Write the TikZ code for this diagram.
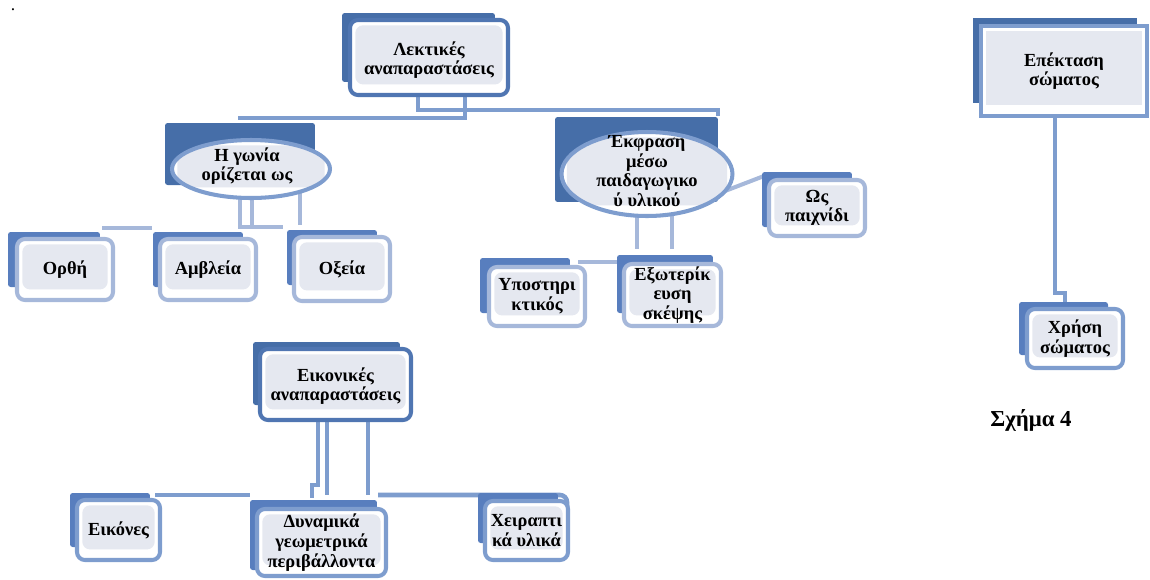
\documentclass[tikz,border=0pt]{standalone}
\usepackage{fontspec}
\setmainfont{Liberation Serif}
\usetikzlibrary{shapes.geometric, backgrounds}
\definecolor{deepblue}{RGB}{70,110,168}
\definecolor{frameblue}{RGB}{80,118,178}
\definecolor{midblue}{RGB}{88,126,190}
\definecolor{linkblue}{RGB}{126,157,206}
\definecolor{paleblue}{RGB}{166,184,218}
\definecolor{dotfill}{RGB}{229,232,240}

\begin{document}
\begin{tikzpicture}
[x=0.02cm, y=-0.02cm, every node/.style={font=\bfseries\fontsize{10.5}{11.2}\selectfont, align=center, inner sep=0pt}, main back/.style={fill=deepblue, rounded corners=1.5pt}, leaf back/.style={fill=midblue, rounded corners=1.5pt}, front box/.style={fill=white, line width=2.3pt, rounded corners=4.5pt, path picture={\fill[dotfill] ([shift={(3pt,6pt)}]path picture bounding box.south west) rectangle ([shift={(-3pt,-3pt)}]path picture bounding box.north east);}}, main box/.style={front box, draw=frameblue}, leaf box/.style={front box, draw=paleblue}, low box/.style={front box, draw=linkblue}, oval/.style={ellipse, front box, draw=linkblue}, link line/.style={draw=linkblue, line width=2.6pt}, pale line/.style={draw=paleblue, line width=2.3pt}]
    \useasboundingbox (0,0) rectangle (1150,579);
    \node[font=\fontsize{10}{12}\selectfont] (dot) at (13,10) {.};
    \node[main back, minimum width=3.06cm, minimum height=1.38cm] (lekt-b) at (418.5,47.5) {};
    \node[main box, minimum width=3.16cm, minimum height=1.5cm] (lekt) at (429,57.5) {};
    \node (lekt-t) at (429,60) {Λεκτικές\\αναπαραστάσεις};
    \node[main back, minimum width=3cm, minimum height=1.24cm] (gonia-b) at (240,154) {};
    \node[oval, minimum width=3.16cm, minimum height=1.16cm] (gonia) at (251,169) {};
    \node (gonia-t) at (247,166) {Η γωνία\\ορίζεται ως};
    \node[leaf back, minimum width=1.84cm, minimum height=1.1cm] (orthi-b) at (54,259.5) {};
    \node[leaf box, minimum width=1.92cm, minimum height=1.22cm] (orthi) at (65,269.5) {Ορθή};
    \node[leaf back, minimum width=1.8cm, minimum height=1.1cm] (amvl-b) at (198,259.5) {};
    \node[leaf box, minimum width=1.92cm, minimum height=1.22cm] (amvl) at (208,269.5) {Αμβλεία};
    \node[leaf back, minimum width=1.8cm, minimum height=1.1cm] (oxeia-b) at (332,257.5) {};
    \node[leaf box, minimum width=1.92cm, minimum height=1.28cm] (oxeia) at (342,269) {Οξεία};
    \node[main back, minimum width=3.26cm, minimum height=1.7cm] (ekfr-b) at (636.5,159.5) {};
    \node[oval, minimum width=3.42cm, minimum height=1.68cm] (ekfr) at (647,174) {};
    \node (ekfr-t) at (647,171) {Έκφραση\\μέσω\\παιδαγωγικο\\ύ υλικού};
    \node[leaf back, minimum width=1.8cm, minimum height=1.1cm] (paix-b) at (807,199.5) {};
    \node[leaf box, minimum width=1.92cm, minimum height=1.12cm] (paix) at (817,208) {Ως\\παιχνίδι};
    \node[leaf back, minimum width=1.8cm, minimum height=1.1cm] (ypost-b) at (525,285.5) {};
    \node[leaf box, minimum width=1.92cm, minimum height=1.18cm] (ypost) at (537,296.5) {Υποστηρι\\κτικός};
    \node[leaf back, minimum width=1.92cm, minimum height=1.16cm] (exot-b) at (665,284) {};
    \node[leaf box, minimum width=1.94cm, minimum height=1.24cm] (exot) at (672.5,295) {Εξωτερίκ\\ευση\\σκέψης};
    \node[main back, minimum width=2.94cm, minimum height=1.26cm] (eik-b) at (326.5,373.5) {};
    \node[main box, minimum width=3.02cm, minimum height=1.42cm] (eik) at (335.5,384.5) {};
    \node (eik-t) at (335.5,386) {Εικονικές\\αναπαραστάσεις};
    \node[leaf back, minimum width=1.6cm, minimum height=1.08cm] (eikon-b) at (110,520) {};
    \node[low box, minimum width=1.66cm, minimum height=1.2cm] (eikon) at (118.5,530) {Εικόνες};
    \node[leaf back, minimum width=2.54cm, minimum height=1.4cm] (dyn-b) at (313.5,535) {};
    \node[low box, minimum width=2.58cm, minimum height=1.34cm] (dyn) at (321.5,542.5) {Δυναμικά\\γεωμετρικά\\περιβάλλοντα};
    \node[leaf back, minimum width=1.6cm, minimum height=1cm] (cheir-b) at (518,518) {};
    \node[low box, minimum width=1.66cm, minimum height=1.18cm] (cheir) at (526.5,530.5) {Χειραπτι\\κά υλικά};
    \node[main back, sharp corners, minimum width=3.28cm, minimum height=1.7cm] (epekt-b) at (1055,60.5) {};
    \node[low box, sharp corners, minimum width=3.32cm, minimum height=1.8cm] (epekt) at (1064,71) {Επέκταση\\σώματος};
    \node[leaf back, minimum width=1.78cm, minimum height=1.06cm] (chr-b) at (1063.5,328.5) {};
    \node[low box, minimum width=1.92cm, minimum height=1.18cm] (chr) at (1075,338.5) {Χρήση\\σώματος};
    \node[font=\bfseries\fontsize{13}{15}\selectfont] (caption) at (1031,420) {Σχήμα 4};
    \coordinate (lk-a) at (418,110);
    \coordinate (lk-r) at (718,110);
    \coordinate (lk-b) at (465,118);
    \coordinate (lk-l) at (238,118);
    \coordinate (go-a) at (240,227);
    \coordinate (go-b) at (252,227);
    \coordinate (go-c) at (300,225);
    \coordinate (go-r) at (283,227);
    \coordinate (go-l) at (102,228);
    \coordinate (go-m) at (152,228);
    \coordinate (ek-a) at (637,249);
    \coordinate (ek-b) at (672,249);
    \coordinate (ek-l) at (578,262);
    \coordinate (ek-m) at (617,262);
    \coordinate (ek-q) at (725,191);
    \coordinate (ek-p) at (764,176);
    \coordinate (ei-a) at (318,485);
    \coordinate (ei-a2) at (312,485);
    \coordinate (ei-a3) at (312,498);
    \coordinate (ei-b) at (327,495);
    \coordinate (ei-c) at (368,495);
    \coordinate (ei-l) at (155,495);
    \coordinate (ei-m) at (250,495);
    \coordinate (ei-r) at (378,495);
    \coordinate (ei-s) at (567,495);
    \coordinate (ep-a) at (1055,293);
    \coordinate (ep-b) at (1065,293);
    \begin{pgfonlayer}{background}
    \draw[link line] (lekt.center -| lk-a) -- (lk-a) -- (lk-r) -- ++(0,6);
    \draw[link line] (lekt.center -| lk-b) -- (lk-b) -- (lk-l);
    \draw[pale line] (gonia.center -| go-a) -- (go-a) -- (go-r);
    \draw[pale line] (gonia.center -| go-b) -- (go-b);
    \draw[pale line] (gonia.center -| go-c) -- (go-c);
    \draw[pale line] (go-l) -- (go-m);
    \draw[pale line] (ekfr.center -| ek-a) -- (ek-a);
    \draw[pale line] (ekfr.center -| ek-b) -- (ek-b);
    \draw[pale line] (ek-l) -- (ek-m);
    \draw[pale line] (ek-q) -- (ek-p);
    \draw[link line] (eik.center -| ei-a) -- (ei-a) -- (ei-a2) -- (ei-a3);
    \draw[link line] (eik.center -| ei-b) -- (ei-b);
    \draw[link line] (eik.center -| ei-c) -- (ei-c);
    \draw[link line] (ei-l) -- (ei-m);
    \draw[link line, rounded corners=4pt] (ei-r) -- (ei-s) -- ++(0,12);
    \draw[link line] (epekt.center -| ep-a) -- (ep-a) -- (ep-b) -- (chr-b.north -| ep-b);
    \end{pgfonlayer}
\end{tikzpicture}
\end{document}
